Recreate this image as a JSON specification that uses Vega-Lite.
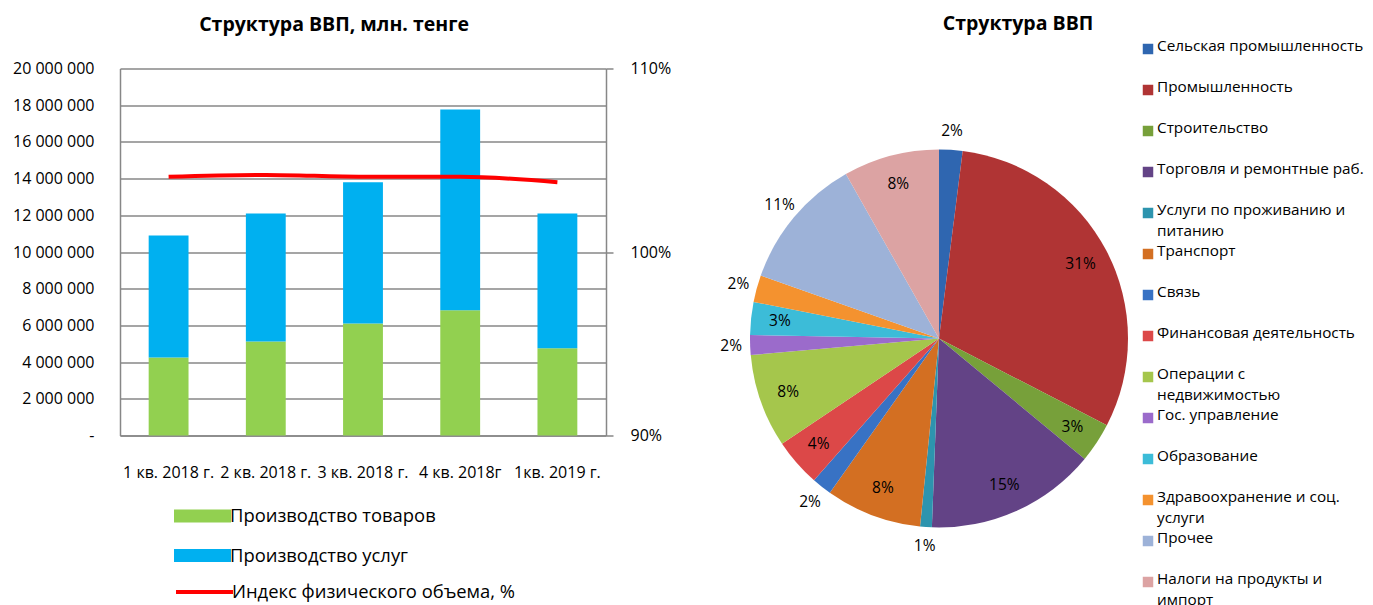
{
  "$schema": "https://vega.github.io/schema/vega-lite/v6.json",
  "padding": {"left": 12, "top": 13.5, "right": 0, "bottom": 0},
  "background": "white",
  "config": {
    "font": "Open Sans",
    "view": {"stroke": null},
    "axis": {"labelFont": "Open Sans", "labelColor": "#000000", "titleFont": "Open Sans"},
    "legend": {"labelFont": "Open Sans", "labelColor": "#000000"},
    "title": {"font": "Open Sans", "color": "#000000"}
  },
  "datasets": {
    "bars": [
      {"quarter": "1 кв. 2018 г.", "series": "Производство товаров", "value": 4250000},
      {"quarter": "1 кв. 2018 г.", "series": "Производство услуг", "value": 6650000},
      {"quarter": "2 кв. 2018 г.", "series": "Производство товаров", "value": 5120000},
      {"quarter": "2 кв. 2018 г.", "series": "Производство услуг", "value": 6980000},
      {"quarter": "3 кв. 2018 г.", "series": "Производство товаров", "value": 6100000},
      {"quarter": "3 кв. 2018 г.", "series": "Производство услуг", "value": 7700000},
      {"quarter": "4 кв. 2018г", "series": "Производство товаров", "value": 6820000},
      {"quarter": "4 кв. 2018г", "series": "Производство услуг", "value": 10950000},
      {"quarter": "1кв. 2019 г.", "series": "Производство товаров", "value": 4750000},
      {"quarter": "1кв. 2019 г.", "series": "Производство услуг", "value": 7350000}
    ],
    "index": [
      {"quarter": "1 кв. 2018 г.", "name": "Индекс физического объема, %", "index": 104.1},
      {"quarter": "2 кв. 2018 г.", "name": "Индекс физического объема, %", "index": 104.2},
      {"quarter": "3 кв. 2018 г.", "name": "Индекс физического объема, %", "index": 104.1},
      {"quarter": "4 кв. 2018г", "name": "Индекс физического объема, %", "index": 104.1},
      {"quarter": "1кв. 2019 г.", "name": "Индекс физического объема, %", "index": 103.8}
    ],
    "gdp": [
      {"idx": 1, "sector": "Сельская промышленность", "legend_text": "Сельская промышленность", "share": 0.020},
      {"idx": 2, "sector": "Промышленность", "legend_text": "Промышленность", "share": 0.306},
      {"idx": 3, "sector": "Строительство", "legend_text": "Строительство", "share": 0.034},
      {"idx": 4, "sector": "Торговля и ремонтные раб.", "legend_text": "Торговля и ремонтные раб.", "share": 0.146},
      {"idx": 5, "sector": "Услуги по проживанию и питанию", "legend_text": " Услуги по проживанию и\nпитанию", "share": 0.010},
      {"idx": 6, "sector": "Транспорт", "legend_text": "Транспорт", "share": 0.082},
      {"idx": 7, "sector": "Связь", "legend_text": "Связь", "share": 0.017},
      {"idx": 8, "sector": "Финансовая деятельность", "legend_text": "Финансовая деятельность", "share": 0.041},
      {"idx": 9, "sector": "Операции с недвижимостью", "legend_text": "Операции с\nнедвижимостью", "share": 0.080},
      {"idx": 10, "sector": "Гос. управление", "legend_text": "Гос. управление", "share": 0.017},
      {"idx": 11, "sector": "Образование", "legend_text": "Образование", "share": 0.028},
      {"idx": 12, "sector": "Здравоохранение и соц. услуги", "legend_text": "Здравоохранение и соц.\nуслуги", "share": 0.023},
      {"idx": 13, "sector": "Прочее", "legend_text": "Прочее", "share": 0.114},
      {"idx": 14, "sector": "Налоги на продукты и импорт", "legend_text": "Налоги на продукты и\nимпорт", "share": 0.082}
    ]
  },
  "spacing": 49,
  "resolve": {"scale": {"color": "independent", "fill": "independent", "stroke": "independent", "y": "independent", "x": "independent"}},
  "hconcat": [
    {
      "title": {"text": "Структура ВВП, млн. тенге", "fontSize": 19.5, "fontWeight": "bold", "frame": "bounds", "offset": 25.5, "dx": -7.5},
      "width": 486,
      "height": 367,
      "layer": [
        {
          "data": {"name": "bars"},
          "mark": {"type": "bar"},
          "encoding": {
            "x": {
              "field": "quarter", "type": "nominal", "sort": null,
              "scale": {"paddingInner": 0.59, "paddingOuter": 0.295},
              "axis": {"title": null, "labelAngle": 0, "labelFontSize": 16, "labelPadding": 29, "ticks": false, "labelOverlap": false, "labelLimit": 300, "domainColor": "#878787", "domainWidth": 1.5}
            },
            "y": {
              "field": "value", "type": "quantitative", "stack": "zero",
              "scale": {"domain": [0, 20000000], "nice": false},
              "axis": {
                "title": null, "values": [0, 2000000, 4000000, 6000000, 8000000, 10000000, 12000000, 14000000, 16000000, 18000000, 20000000],
                "labelExpr": "datum.value == 0 ? '-' : replace(format(datum.value, ',d'), regexp(',', 'g'), ' ')",
                "labelFontSize": 16, "labelPadding": 26, "ticks": false,
                "grid": true, "gridColor": "#878787", "gridWidth": 1.5,
                "domainColor": "#878787", "domainWidth": 1.5
              }
            },
            "order": {"field": "series", "type": "nominal", "sort": "ascending"},
            "fill": {
              "field": "series", "type": "nominal",
              "scale": {"domain": ["Производство товаров", "Производство услуг"], "range": ["#92D050", "#00B0F0"]},
              "legend": {
                "title": null, "orient": "none", "legendX": 68, "legendY": 433, "direction": "vertical",
                "symbolType": "M-2,-0.45H2V0.45H-2Z", "symbolSize": 812, "symbolStrokeWidth": 0,
                "labelFontSize": 18.4, "labelOffset": 13, "rowPadding": 15.5, "padding": 0, "labelLimit": 400
              }
            }
          }
        },
        {
          "data": {"name": "index"},
          "mark": {"type": "line", "interpolate": "monotone", "strokeWidth": 4},
          "encoding": {
            "x": {"field": "quarter", "type": "nominal", "sort": null},
            "y": {
              "field": "index", "type": "quantitative",
              "scale": {"domain": [90, 110], "nice": false},
              "axis": {
                "title": null, "orient": "right", "values": [90, 100, 110],
                "labelExpr": "datum.value + '%'", "labelFontSize": 16, "labelPadding": 17,
                "ticks": true, "tickSize": 7, "tickColor": "#878787", "tickWidth": 1.5,
                "grid": false, "domainColor": "#878787", "domainWidth": 1.5
              }
            },
            "stroke": {
              "field": "name", "type": "nominal",
              "scale": {"range": ["#FF0000"]},
              "legend": {
                "title": null, "orient": "none", "legendX": 68, "legendY": 507,
                "symbolType": "M-2,0H2", "symbolSize": 812, "symbolStrokeWidth": 4,
                "labelFontSize": 18.4, "labelOffset": 11, "padding": 0, "labelLimit": 400
              }
            }
          }
        }
      ],
      "resolve": {"scale": {"y": "independent"}}
    },
    {
      "spacing": 13,
      "hconcat": [
        {
          "title": {"text": "Структура ВВП", "fontSize": 19.5, "fontWeight": "bold", "offset": 34.5, "dx": 79},
          "width": 380,
          "height": 540,
          "data": {"name": "gdp"},
          "encoding": {
            "theta": {"field": "share", "type": "quantitative", "stack": true},
            "order": {"field": "idx", "type": "quantitative"}
          },
          "layer": [
            {
              "mark": {"type": "arc", "outerRadius": 189},
              "encoding": {
                "color": {
                  "field": "sector", "type": "nominal", "sort": null,
                  "scale": {
                    "domain": ["Сельская промышленность", "Промышленность", "Строительство", "Торговля и ремонтные раб.", "Услуги по проживанию и питанию", "Транспорт", "Связь", "Финансовая деятельность", "Операции с недвижимостью", "Гос. управление", "Образование", "Здравоохранение и соц. услуги", "Прочее", "Налоги на продукты и импорт"],
                    "range": ["#2F66B0", "#B03434", "#77A03A", "#634386", "#2D94AE", "#D36F22", "#3872C4", "#DC4848", "#A5C64C", "#9B6BCB", "#3CBCD8", "#F4922F", "#9DB2D8", "#DCA3A3"]
                  },
                  "legend": null
                }
              }
            },
            {
              "mark": {"type": "text", "radius": 160, "fontSize": 15.5, "color": "#000000"},
              "encoding": {
                "text": {
                  "condition": {"test": "datum.share >= 0.028 && datum.sector != 'Прочее'", "field": "share", "format": ".0%"},
                  "value": ""
                }
              }
            },
            {
              "mark": {"type": "text", "radius": 208, "fontSize": 15.5, "color": "#000000"},
              "encoding": {
                "text": {
                  "condition": {"test": "datum.share < 0.028 || datum.sector == 'Прочее'", "field": "share", "format": ".0%"},
                  "value": ""
                }
              }
            }
          ]
        },
        {
          "width": 12,
          "height": 574,
          "data": {"name": "gdp"},
          "encoding": {
            "y": {"field": "sector", "type": "nominal", "sort": null, "axis": null, "scale": {"paddingInner": 0, "paddingOuter": 0, "range": [-40, 534]}}
          },
          "layer": [
            {
              "mark": {"type": "square", "size": 110, "opacity": 1, "filled": true},
              "encoding": {
                "color": {
                  "field": "sector", "type": "nominal", "sort": null,
                  "scale": {
                    "domain": ["Сельская промышленность", "Промышленность", "Строительство", "Торговля и ремонтные раб.", "Услуги по проживанию и питанию", "Транспорт", "Связь", "Финансовая деятельность", "Операции с недвижимостью", "Гос. управление", "Образование", "Здравоохранение и соц. услуги", "Прочее", "Налоги на продукты и импорт"],
                    "range": ["#2F66B0", "#B03434", "#77A03A", "#634386", "#2D94AE", "#D36F22", "#3872C4", "#DC4848", "#A5C64C", "#9B6BCB", "#3CBCD8", "#F4922F", "#9DB2D8", "#DCA3A3"]
                  },
                  "legend": null
                }
              }
            },
            {
              "mark": {"type": "text", "align": "left", "baseline": "top", "dx": 9, "dy": -10, "lineBreak": "\n", "lineHeight": 21, "fontSize": 15.3, "color": "#000000"},
              "encoding": {"text": {"field": "legend_text"}}
            }
          ]
        }
      ]
    }
  ]
}
